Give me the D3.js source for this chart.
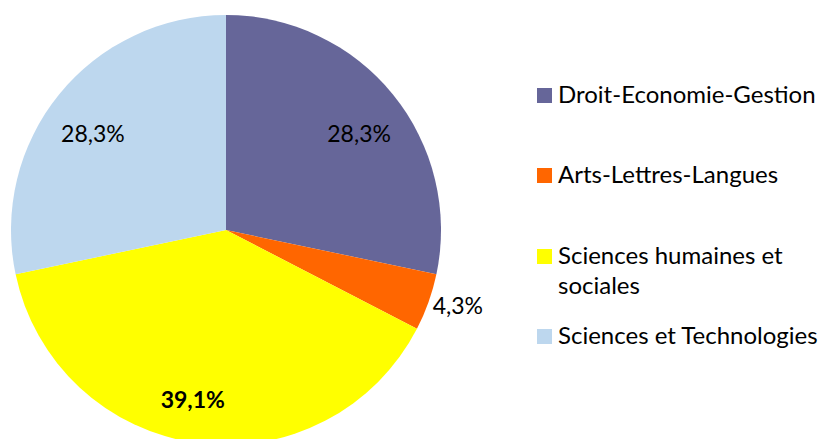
<!DOCTYPE html>
<html>
<head>
<meta charset="utf-8">
<script src="https://cdn.jsdelivr.net/npm/d3@7"></script>
<style>
  body { margin: 0; background: #fff; }
  svg text { font-family: Lato, "Open Sans", sans-serif; fill: #000; }
</style>
</head>
<body>
<div class="visHolder"></div>
<script>
const categories = ['Droit-Economie-Gestion', 'Arts-Lettres-Langues', 'Sciences humaines et sociales', 'Sciences et Technologies'];
const values = [28.3, 4.3, 39.1, 28.3];
const labels = ['28,3%', '4,3%', '39,1%', '28,3%'];
const colors = ['#666699', '#ff6600', '#ffff00', '#bdd7ee'];
const legendLines = [['Droit-Economie-Gestion'], ['Arts-Lettres-Langues'], ['Sciences humaines et', 'sociales'], ['Sciences et Technologies']];

const width = 830,
    height = 439,
    cx = 226,
    cy = 230,
    radius = 215;

const svg = d3.select('.visHolder')
    .append('svg')
    .attr('width', width)
    .attr('height', height);

const pie = d3.pie().sort(null).value(d => d);
const arcs = pie(values);

const arc = d3.arc().innerRadius(0).outerRadius(radius);

const g = svg.append('g').attr('transform', `translate(${cx},${cy})`);

g.selectAll('path')
    .data(arcs)
    .enter()
    .append('path')
    .attr('d', arc)
    .attr('fill', (d, i) => colors[i]);

// labels: inside for big slices, outside for the small one
const labelR = [164, 244, 173, 164];
const labelShift = [0.058, -0.026, 0.058, -0.058]; // radians, like excel's placement
g.selectAll('text.lbl')
    .data(arcs)
    .enter()
    .append('text')
    .attr('class', 'lbl')
    .attr('transform', (d, i) => {
        const a = d3.arc().innerRadius(labelR[i]).outerRadius(labelR[i]);
        const c = a.centroid({startAngle: d.startAngle + labelShift[i], endAngle: d.endAngle + labelShift[i]});
        return `translate(${c[0]},${c[1]})`;
    })
    .attr('text-anchor', 'middle')
    .attr('dy', '0.35em')
    .style('font-size', '23px')
    .style('font-weight', (d, i) => i === 2 ? 'bold' : 'normal')
    .text((d, i) => labels[i]);

// legend
const legend = svg.append('g').attr('transform', 'translate(537,0)');
const rowYs = [95, 175, 256, 336];
categories.forEach((c, i) => {
    const row = legend.append('g').attr('transform', `translate(0,${rowYs[i]})`);
    row.append('rect')
        .attr('x', 0)
        .attr('y', -7)
        .attr('width', 15)
        .attr('height', 15)
        .attr('fill', colors[i]);
    legendLines[i].forEach((t, j) => {
        row.append('text')
            .attr('x', 21)
            .attr('y', j * 30)
            .attr('dy', '0.35em')
            .style('font-size', '24px')
            .text(t);
    });
});
</script>
</body>
</html>
